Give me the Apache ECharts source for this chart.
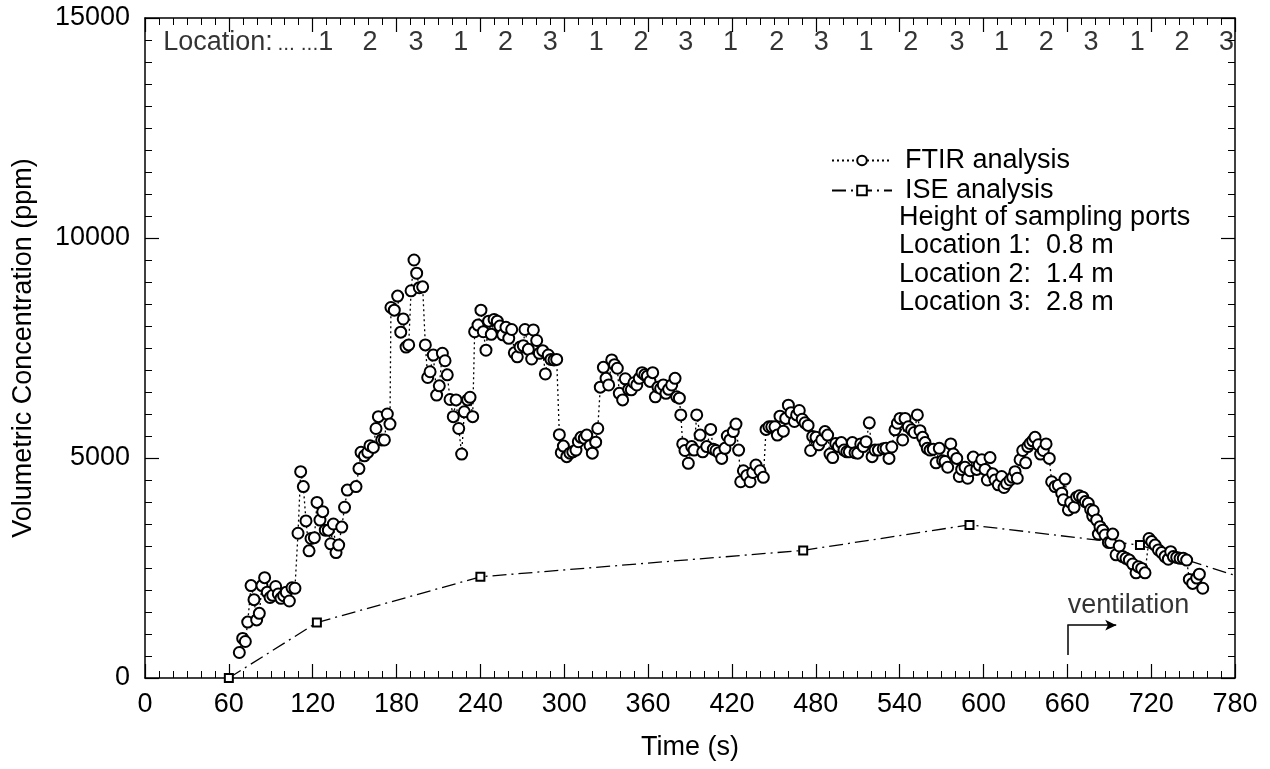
<!DOCTYPE html>
<html>
<head>
<meta charset="utf-8">
<title>Volumetric Concentration</title>
<script src="https://cdn.jsdelivr.net/npm/echarts@6/dist/echarts.min.js"></script>
<style>
  html, body { margin: 0; padding: 0; background: #fff; }
  #chart { width: 1270px; height: 769px; }
</style>
</head>
<body>
<div id="chart"></div>
<script>
'use strict'
/*-----data-----*/
var ftirTime = [
  67.5, 69.9, 71.8, 73.5, 75.9, 78.0, 79.9, 81.8, 83.7, 85.6, 87.5, 89.5, 91.4, 93.5, 95.4, 97.3, 99.2, 101.1, 103.3, 105.2,
  107.3, 109.5, 111.4, 113.3, 115.2, 117.4, 118.8, 121.2, 123.1, 125.2, 127.2, 129.0, 131.2, 132.9, 134.8, 136.7, 138.6, 140.8, 142.8, 144.8,
  151.0, 153.1, 154.6, 157.0, 159.4, 161.0, 163.4, 165.3, 167.0, 169.4, 171.3, 173.4, 175.3, 176.0, 178.4, 180.8, 183.0, 184.8, 186.8, 188.7,
  190.4, 192.5, 194.4, 196.3, 198.7, 200.6, 202.3, 204.0, 206.3, 208.7, 210.6, 212.8, 214.7, 216.3, 218.3, 220.6, 222.6, 224.5, 226.6, 228.5,
  230.9, 232.6, 234.5, 235.9, 238.3, 240.4, 242.1, 244.0, 245.9, 247.8, 249.8, 252.1, 254.0, 256.0, 258.3, 260.3, 262.4, 264.3, 266.4, 268.4,
  270.7, 271.9, 274.3, 276.7, 277.9, 280.3, 282.2, 284.6, 286.5, 288.6, 290.5, 292.7, 294.6, 296.5, 297.9, 299.4, 301.8, 304.1, 306.1, 308.4,
  310.1, 312.0, 314.4, 316.1, 318.5, 320.1, 322.5, 324.0, 325.8, 328.0, 329.9, 331.8, 334.0, 336.0, 338.0, 339.4, 341.8, 343.7, 346.1, 348.0,
  349.9, 351.9, 353.7, 355.7, 357.6, 359.5, 361.4, 363.3, 365.2, 367.1, 369.0, 370.9, 372.8, 374.7, 376.9, 379.3, 380.5, 382.4, 383.4, 384.8,
  386.4, 388.8, 391.2, 392.9, 394.8, 397.2, 399.1, 402.0, 404.8, 406.7, 408.6, 410.7, 412.7, 415.0, 416.7, 418.6, 421.0, 422.9, 424.8, 426.3,
  428.2, 430.6, 433.0, 434.9, 437.2, 440.1, 442.5, 444.4, 446.5, 448.5, 450.8, 452.5, 454.4, 456.8, 458.5, 460.4, 462.3, 464.7, 466.3, 468.2,
  470.3, 472.3, 474.5, 476.3, 477.8, 480.2, 482.1, 484.3, 486.6, 488.5, 490.2, 492.1, 494.3, 496.2, 498.3, 500.2, 502.2, 504.0, 506.2, 508.1,
  510.0, 512.2, 514.0, 516.0, 518.3, 520.3, 522.4, 524.8, 528.3, 530.3, 532.4, 534.4, 536.7, 538.4, 540.3, 542.2, 543.9, 546.2, 548.6, 550.5,
  552.7, 554.6, 556.5, 558.2, 559.8, 561.8, 564.1, 566.1, 568.4, 570.8, 572.5, 574.4, 576.6, 578.4, 580.9, 582.7, 584.4, 586.8, 588.7, 590.4,
  592.7, 595.2, 597.0, 598.8, 601.1, 602.8, 604.7, 606.6, 608.3, 610.6, 613.0, 614.7, 616.6, 619.0, 620.9, 622.6, 624.2, 626.2, 628.1, 630.2,
  631.7, 633.3, 635.2, 636.9, 639.3, 640.9, 642.8, 644.8, 647.1, 648.8, 651.2, 653.6, 656.0, 657.2, 658.4, 660.8, 662.4, 664.8, 666.7, 668.6,
  671.0, 672.9, 675.0, 676.7, 678.2, 678.6, 681.0, 682.2, 683.4, 685.3, 687.0, 689.4, 691.0, 692.5, 694.9, 697.2, 699.6, 702.0, 704.4, 706.8,
  709.2, 710.8, 713.2, 715.6, 718.5, 720.4, 722.8, 725.2, 727.5, 729.9, 732.3, 734.0, 735.9, 738.3, 740.7, 743.0, 745.4, 747.3, 749.7, 752.6,
  754.5, 756.9
];
var ftirConc = [
  580, 900, 830, 1270, 2100, 1780, 1320, 1470, 2100, 2280, 1950, 1830, 1880, 2080, 1910, 1810, 1870, 1950, 1750, 2050,
  2040, 3290, 4690, 4350, 3570, 2890, 3170, 3190, 3990, 3590, 3780, 3360, 3360, 3050, 3500, 2850, 3020, 3430, 3880, 4270,
  4350, 4760, 5130, 5050, 5130, 5280, 5240, 5670, 5940, 5410, 5410, 6000, 5770, 8420, 8360, 8680, 7860, 8160, 7520, 7570,
  8800, 9500, 9200, 8870, 8890, 7570, 6830, 6960, 7340, 6430, 6640, 7380, 7210, 6890, 6330, 5940, 6320, 5670, 5090, 6050,
  6320, 6380, 5940, 7870, 8020, 8360, 7870, 7450, 8110, 7810, 8150, 8110, 8000, 7800, 7970, 7720, 7920, 7390, 7300, 7520,
  7550, 7920, 7470, 7250, 7910, 7670, 7380, 7440, 6910, 7340, 7240, 7230, 7240, 5530, 5120, 5270, 5030, 5110, 5140, 5180,
  5370, 5470, 5450, 5520, 5280, 5110, 5360, 5670, 6610, 7060, 6810, 6660, 7230, 7120, 7040, 6470, 6320, 6800, 6560, 6550,
  6710, 6660, 6810, 6940, 6890, 6860, 6740, 6940, 6390, 6610, 6580, 6660, 6470, 6560, 6660, 6810, 6390, 6360, 5980, 5320,
  5170, 4880, 5260, 5180, 5980, 5520, 5140, 5260, 5650, 5200, 5170, 5120, 4990, 5220, 5500, 5410, 5600, 5770, 5180, 4460,
  4710, 4600, 4460, 4670, 4840, 4710, 4560, 5650, 5710, 5710, 5710, 5520, 5950, 5610, 5900, 6200, 6030, 5830, 5980, 6080,
  5880, 5800, 5740, 5170, 5490, 5470, 5300, 5410, 5600, 5520, 5090, 5010, 5330, 5260, 5350, 5180, 5140, 5140, 5350, 5120,
  5110, 5320, 5260, 5370, 5800, 5030, 5180, 5180, 5210, 5220, 4990, 5250, 5640, 5790, 5900, 5410, 5900, 5710, 5640, 5580,
  5980, 5620, 5470, 5350, 5220, 5180, 5200, 4890, 5220, 4940, 4920, 4790, 5320, 5090, 4990, 4580, 4740, 4790, 4540, 4710,
  5020, 4740, 4840, 4960, 4740, 4500, 5010, 4640, 4500, 4390, 4580, 4330, 4420, 4500, 4560, 4690, 4540, 4960, 5170, 4890,
  5260, 5330, 5390, 5470, 5300, 5090, 5170, 5320, 4990, 4460, 4350, 4380, 4200, 4050, 4520, 3820, 3990, 3880, 4110, 4140,
  4110, 4010, 3970, 3830, 3680, 3800, 3590, 3270, 3440, 3360, 3250, 3080, 3080, 3270, 2800, 3000, 2760, 2720, 2680, 2590,
  2390, 2530, 2490, 2390, 3170, 3100, 3020, 2910, 2850, 2760, 2700, 2870, 2760, 2740, 2720, 2720, 2680, 2240, 2150, 2270,
  2360, 2040
];

var iseTime = [60, 123, 240, 471, 590, 712, 800];
var iseConc = [0, 1260, 2300, 2900, 3480, 3020, 2130];

var xTicks = { min: 0, max: 780, interval: 60 };
var yTicks = { min: 0, max: 15000, interval: 5000 };

var locationHeader = 'Location:';
var locationNames = ['... ...1', '2', '3', '1', '2', '3', '1', '2', '3', '1', '2', '3', '1', '2', '3', '1', '2', '3', '1', '2', '3'];
var locationTimes = [129, 161, 194, 226, 258, 290, 323, 355, 387, 419, 452, 484, 516, 548, 581, 613, 645, 677, 710, 742, 774];

var notes = ['Height of sampling ports', 'Location 1:  0.8 m', 'Location 2:  1.4 m', 'Location 3:  2.8 m'];

var ventTime = 660;
var ventArrowEnd = 695;
var ventLow = 520;
var ventHigh = 1200;
var ventLabelY = 1640;

/*-----styles-----*/
var font = '"Liberation Sans", Arial, Helvetica, sans-serif';
var fs = 27;
var black = '#000';
var headerY = 14450;

function pairs(xs, ys) {
  var out = [];
  for (var i = 0; i < xs.length; i++) out.push([xs[i], ys[i]]);
  return out;
}

function makeX(pos, showLabels) {
  return {
    type: 'value', position: pos, min: xTicks.min, max: xTicks.max, interval: xTicks.interval,
    axisLine: { show: true, onZero: false, lineStyle: { color: black, width: 1.5 } },
    axisTick: { show: true, inside: true, length: 14, lineStyle: { color: black, width: 1.2 } },
    minorTick: { show: true, splitNumber: 6, length: 7, lineStyle: { color: black, width: 1 } },
    splitLine: { show: false },
    axisLabel: { show: showLabels, fontSize: fs, color: black, margin: 13, fontFamily: font },
    name: showLabels ? 'Time (s)' : '', nameLocation: 'middle', nameGap: 56,
    nameTextStyle: { fontSize: fs, color: black, fontFamily: font }
  };
}

function makeY(pos, showLabels) {
  return {
    type: 'value', position: pos, min: yTicks.min, max: yTicks.max, interval: yTicks.interval,
    axisLine: { show: true, onZero: false, lineStyle: { color: black, width: 1.5 } },
    axisTick: { show: true, inside: true, length: 14, lineStyle: { color: black, width: 1.2 } },
    minorTick: { show: true, splitNumber: 10, length: 7, lineStyle: { color: black, width: 1 } },
    splitLine: { show: false },
    axisLabel: {
      show: showLabels, fontSize: fs, color: black, margin: 15, fontFamily: font,
      formatter: function (v) { return String(v); }
    },
    name: showLabels ? 'Volumetric Concentration (ppm)' : '', nameLocation: 'middle', nameGap: 108, nameRotate: 90,
    nameTextStyle: { fontSize: fs, color: black, fontFamily: font }
  };
}

/*-----location labels along the top-----*/
var headerData = [{ value: [13, headerY], name: locationHeader, label: { align: 'left' } }];
for (var i = 0; i < locationTimes.length; i++) {
  var item = { value: [locationTimes[i], headerY], name: locationNames[i] };
  if (i === 0) item.label = { align: 'right', offset: [8, 0] };
  headerData.push(item);
}

var option = {
  backgroundColor: '#fff',
  animation: false,
  grid: { left: 145, right: 35, top: 18, bottom: 91 },
  xAxis: [makeX('bottom', true), makeX('top', false)],
  yAxis: [makeY('left', true), makeY('right', false)],
  legend: {
    data: ['FTIR analysis', 'ISE analysis'],
    orient: 'vertical', left: 826, top: 142,
    itemWidth: 60, itemHeight: 12, itemGap: 3,
    textStyle: { fontSize: fs, color: black, fontFamily: font, padding: [0, 0, 0, 8] }
  },
  graphic: [{
    type: 'text', left: 899, top: 203,
    style: { text: notes.join('\n'), font: fs + 'px ' + font, lineHeight: 28.5, fill: black }
  }],
  series: [
    {
      name: 'FTIR analysis', type: 'line', xAxisIndex: 0, yAxisIndex: 0,
      data: pairs(ftirTime, ftirConc),
      symbol: 'emptyCircle', symbolSize: 11, showAllSymbol: true,
      lineStyle: { color: black, width: 1.3, type: [2, 3] },
      itemStyle: { color: black, borderColor: black, borderWidth: 1.6 },
      z: 3
    },
    {
      name: 'ISE analysis', type: 'line', xAxisIndex: 0, yAxisIndex: 0,
      data: pairs(iseTime, iseConc),
      symbol: 'emptyRect', symbolSize: 8, showAllSymbol: true, clip: true,
      lineStyle: { color: black, width: 1.3, type: [14, 5, 2, 5] },
      itemStyle: { color: black, borderColor: black, borderWidth: 1.3 },
      z: 2
    },
    {
      name: 'header', type: 'scatter', xAxisIndex: 0, yAxisIndex: 0,
      data: headerData, symbolSize: 1, silent: true,
      itemStyle: { color: 'rgba(0,0,0,0)' },
      label: {
        show: true, position: 'inside', color: black, fontSize: fs, fontFamily: font,
        formatter: function (p) { return p.name.replace(/^(\.\.\. \.\.\.)/, '{d|$1}'); },
        rich: { d: { fontSize: 21, fontFamily: font, color: black, padding: [4, 0, 0, 0] } }
      }
    },
    {
      name: 'ventilation', type: 'scatter', xAxisIndex: 0, yAxisIndex: 0,
      data: [{ value: [ventTime, ventLabelY], name: 'ventilation' }],
      symbolSize: 1, silent: true,
      itemStyle: { color: 'rgba(0,0,0,0)' },
      label: {
        show: true, position: 'right', distance: 0, color: black, fontSize: fs, fontFamily: font,
        formatter: function (p) { return p.name; }
      },
      markLine: {
        silent: true, animation: false,
        lineStyle: { color: black, width: 1.5, type: 'solid' },
        label: { show: false },
        data: [
          [{ coord: [ventTime, ventLow], symbol: 'none' }, { coord: [ventTime, ventHigh], symbol: 'none' }],
          [{ coord: [ventTime, ventHigh], symbol: 'none' }, { coord: [ventArrowEnd, ventHigh], symbol: 'arrow', symbolSize: [8, 11] }]
        ]
      }
    }
  ]
};

var chart = echarts.init(document.getElementById('chart'));
chart.setOption(option);
</script>
</body>
</html>
